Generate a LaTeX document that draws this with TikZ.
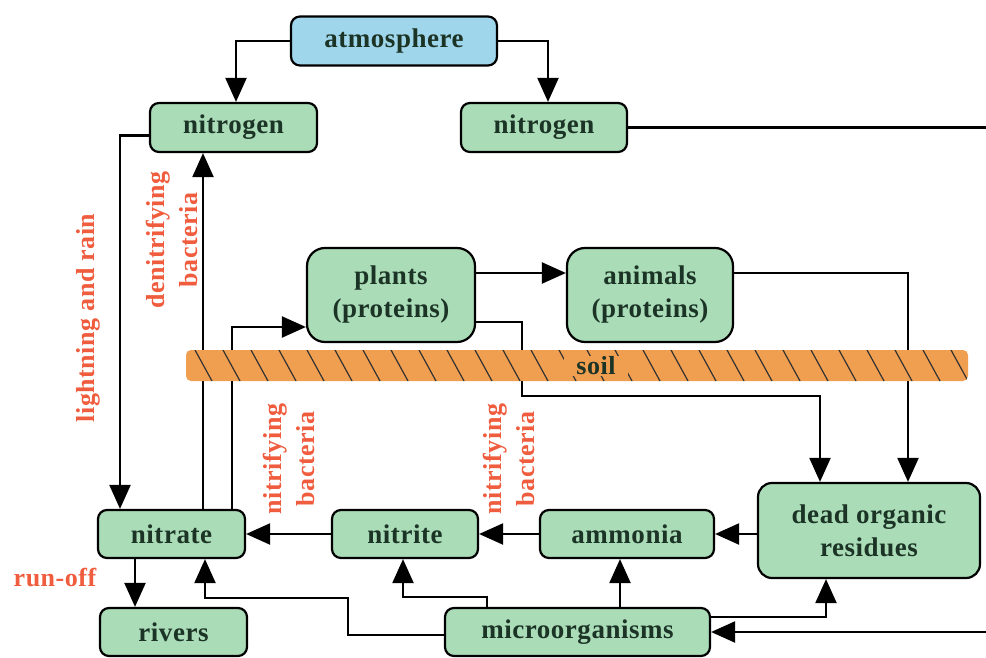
\documentclass[tikz,border=0pt]{standalone}
\usepackage{fontspec}
\setmainfont{Liberation Serif}[LetterSpace=2]
\usetikzlibrary{arrows.meta}
\definecolor{boxgreen}{RGB}{170,220,184}
\definecolor{skyblue}{RGB}{160,214,236}
\definecolor{boxtext}{RGB}{28,52,38}
\definecolor{labelred}{RGB}{240,92,62}
\definecolor{soilorange}{RGB}{240,158,80}
\tikzset{
  box/.style={draw=black, line width=2.2pt, rounded corners=9pt, fill=boxgreen,
    text=boxtext, align=center, inner sep=0pt,
    font=\bfseries\fontsize{27}{33}\selectfont},
  bigbox/.style={box, rounded corners=18pt},
  arr/.style={line width=2.2pt, -{Triangle[length=24pt,width=21pt]}},
  lbl/.style={text=labelred, align=center, inner sep=0pt,
    font=\bfseries\fontsize{26}{33}\selectfont},
}
\begin{document}
\begin{tikzpicture}[x=1pt,y=-1pt]
\clip (0,0) rectangle (986,658);
\fill[white] (0,0) rectangle (986,658);

% boxes
\node[box, fill=skyblue, minimum width=206pt, minimum height=49pt] (atm) at (394,41) {atmosphere};
\node[box, minimum width=167pt, minimum height=49pt] (nitroL) at (233.5,127.5) {nitrogen};
\node[box, minimum width=166pt, minimum height=49pt] (nitroR) at (544,127.5) {nitrogen};
\node[bigbox, minimum width=168pt, minimum height=94pt] (plants) at (391,295) {plants\\(proteins)};
\node[bigbox, minimum width=166pt, minimum height=94pt] (animals) at (650,295) {animals\\(proteins)};
\node[box, minimum width=147pt, minimum height=48pt] (nitrate) at (171.5,534) {nitrate};
\node[box, minimum width=146pt, minimum height=48pt] (nitrite) at (405,534) {nitrite};
\node[box, minimum width=174pt, minimum height=48pt] (ammonia) at (627,534) {ammonia};
\node[bigbox, rounded corners=14pt, minimum width=222pt, minimum height=95pt] (dead) at (869,530.5) {dead organic\\residues};
\node[box, minimum width=147pt, minimum height=48pt] (rivers) at (173.5,632) {rivers};
\node[box, minimum width=265pt, minimum height=48pt] (micro) at (577.5,632) {microorganisms};

% connectors
\draw[arr] (atm.west) -| ([xshift=2.5pt]nitroL.north);
\draw[arr] (atm.east) -| ([xshift=4pt]nitroR.north);
\draw[arr] ([yshift=-8pt]nitroL.west) -| ([xshift=-51.5pt]nitrate.north);
\draw[arr] ([xshift=31.5pt]nitrate.north) -- ([xshift=31.5pt]nitrate.north |- nitroL.south);
\draw[arr] ([xshift=60.5pt]nitrate.north) |- ([yshift=-32pt]plants.west);
\draw[arr] ([yshift=22pt]plants.east) -- ([yshift=22pt]animals.west);
\draw[arr] ([yshift=-27pt]plants.east) -| (522,396) -| ([xshift=-49pt]dead.north);
\draw[arr] ([yshift=22pt]animals.east) -| ([xshift=39pt]dead.north);
\draw[arr] (dead.west |- ammonia.east) -- (ammonia.east);
\draw[arr] (ammonia.west) -- (nitrite.east);
\draw[arr] (nitrite.west) -- (nitrate.east);
\draw[arr] ([xshift=-36.5pt]nitrate.south) -- ([xshift=-36.5pt]nitrate.south |- rivers.north);
\draw[arr] ([yshift=-3pt]micro.west) -| (348,598) -| ([xshift=33.5pt]nitrate.south);
\draw[arr] ([xshift=-90.5pt]micro.north) -- ++(0,-10) -| ([xshift=-2pt]nitrite.south);
\draw[arr] ([xshift=42.5pt]micro.north) -- ([xshift=-7pt]ammonia.south);
\draw[arr] ([yshift=15pt]micro.east) -| ([xshift=-43pt]dead.south);
\coordinate (edge) at (1000,127.5);
\draw[arr] (nitroR.east) -- (edge) |- (micro.east);

% soil layer
\begin{scope}
  \fill[soilorange, rounded corners=5pt] (186,350) rectangle (968,381);
  \clip[rounded corners=5pt] (186,350) rectangle (968,381);
  \foreach \x in {195,223,...,960}
    \draw[line width=1.2pt, black!80] (\x,350) -- (\x+17,381);
\end{scope}
\node[fill=soilorange, text=boxtext, inner xsep=12pt, inner ysep=1pt,
  font=\bfseries\fontsize{26}{30}\selectfont] (soil) at (596,366) {soil};

% labels
\node[lbl, rotate=90] (lblrain) at (88,318) {lightning and rain};
\node[lbl, rotate=90] (lbldenit) at (172,240) {denitrifying\\bacteria};
\node[lbl, rotate=90] (lblnitA) at (289,459) {nitrifying\\bacteria};
\node[lbl, rotate=90] (lblnitB) at (509,459) {nitrifying\\bacteria};
\node[lbl] (lblrun) at (55,578) {run-off};
\end{tikzpicture}
\end{document}
